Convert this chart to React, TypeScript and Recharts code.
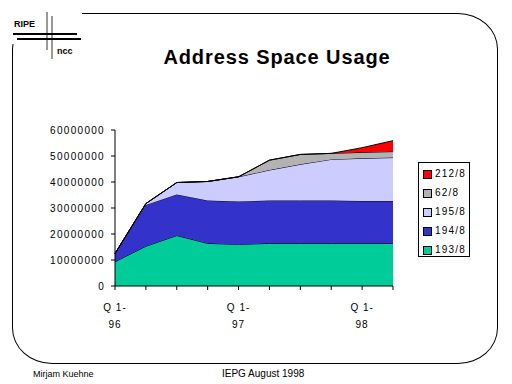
import { Area, AreaChart, XAxis, YAxis } from 'recharts'

const quarters = ['Q1-96', 'Q2-96', 'Q3-96', 'Q4-96', 'Q1-97', 'Q2-97', 'Q3-97', 'Q4-97', 'Q1-98', 'Q2-98']
const net193 = [9300000, 15300000, 19400000, 16400000, 16000000, 16400000, 16400000, 16400000, 16400000, 16400000]
const net194 = [3200000, 15900000, 15800000, 16500000, 16500000, 16500000, 16500000, 16500000, 16300000, 16300000]
const net195 = [0, 500000, 4600000, 7300000, 9500000, 11700000, 13900000, 15800000, 16400000, 16700000]
const net62 = [0, 0, 0, 0, 0, 3800000, 3800000, 2300000, 2300000, 2300000]
const net212 = [0, 0, 0, 0, 0, 0, 0, 0, 1800000, 4200000]
const shownTicks = ['Q1-96', 'Q1-97', 'Q1-98']
const yTicks = [0, 10000000, 20000000, 30000000, 40000000, 50000000, 60000000]

const series = [
  { key: 'n193', name: '193/8', color: '#00CC99' },
  { key: 'n194', name: '194/8', color: '#3333CC' },
  { key: 'n195', name: '195/8', color: '#CCCCFF' },
  { key: 'n62', name: '62/8', color: '#B2B2B2' },
  { key: 'n212', name: '212/8', color: '#FF0000' },
]

const data = quarters.map((q, i) => ({
  q,
  n193: net193[i],
  n194: net194[i],
  n195: net195[i],
  n62: net62[i],
  n212: net212[i],
}))

const font = 'Arial, "Liberation Sans", sans-serif'

function QuarterTick(props: any) {
  const { x, y, payload } = props
  if (!shownTicks.includes(payload.value)) return null
  const [a, b] = payload.value.split('-')
  return (
    <g>
      <text x={x} y={y + 19} textAnchor='middle' fontSize={10} fontFamily={font} letterSpacing={1} fill='#000'>
        {a.replace('Q', 'Q ') + '-'}
      </text>
      <text x={x} y={y + 36} textAnchor='middle' fontSize={10} fontFamily={font} letterSpacing={1} fill='#000'>
        {b}
      </text>
    </g>
  )
}

function App() {
  return (
    <div style={{ position: 'absolute', left: 0, top: 0, width: 512, height: 384, background: '#fff', fontFamily: font, overflow: 'hidden' }}>
      {/* slide frame */}
      <div style={{ position: 'absolute', left: 12, top: 13, width: 484, height: 349, border: '1px solid #000', borderRadius: '40px / 36px' }} />
      {/* logo */}
      <div style={{ position: 'absolute', left: 0, top: 0, width: 82, height: 44, background: '#fff' }} />
      <div style={{ position: 'absolute', left: 46, top: 12, width: 2, height: 38, background: '#999' }} />
      <div style={{ position: 'absolute', left: 51, top: 16, width: 2, height: 43, background: '#999' }} />
      <div style={{ position: 'absolute', left: 13, top: 33, width: 64, height: 2, background: '#000' }} />
      <div style={{ position: 'absolute', left: 17, top: 38, width: 64, height: 2, background: '#000' }} />
      <div style={{ position: 'absolute', left: 14, top: 19, fontSize: 9, fontWeight: 'bold', lineHeight: '10px' }}>RIPE</div>
      <div style={{ position: 'absolute', left: 57, top: 46, fontSize: 9, fontWeight: 'bold', lineHeight: '10px' }}>ncc</div>

      <div style={{ position: 'absolute', left: 0, top: 45, width: 554, textAlign: 'center', fontSize: 20, fontWeight: 'bold', letterSpacing: 0.9, lineHeight: '24px' }}>
        Address Space Usage
      </div>

      <AreaChart width={512} height={384} data={data} margin={{ top: 130, right: 119, bottom: 58, left: 40 }} style={{ position: 'absolute', left: 0, top: 0 }}>
        <XAxis dataKey='q' interval={0} tickSize={4} tick={<QuarterTick />} height={40} stroke='#000' />
        <YAxis
          width={75}
          domain={[0, 60000000]}
          ticks={yTicks}
          interval={0}
          tickSize={4}
          tickMargin={6}
          stroke='#000'
          tick={{ fontSize: 10, fill: '#000', fontFamily: font, letterSpacing: 1.3 }}
        />
        {series.map((s) => (
          <Area
            key={s.key}
            type='linear'
            dataKey={s.key}
            name={s.name}
            stackId='1'
            fill={s.color}
            fillOpacity={1}
            stroke='#000'
            strokeWidth={1}
            isAnimationActive={false}
          />
        ))}
      </AreaChart>

      {/* legend */}
      <div style={{ position: 'absolute', left: 418, top: 162, width: 50, height: 93, border: '1px solid #000', background: '#fff' }}>
        {[...series].reverse().map((s, i) => (
          <div key={s.key} style={{ position: 'absolute', left: 4, top: 6 + i * 19, height: 10, display: 'flex', alignItems: 'center' }}>
            <div style={{ width: 7, height: 7, background: s.color, border: '1px solid #000' }} />
            <span style={{ marginLeft: 3, fontSize: 10, letterSpacing: 1.2, lineHeight: '10px' }}>{s.name}</span>
          </div>
        ))}
      </div>

      <div style={{ position: 'absolute', left: 33, top: 369, fontSize: 9, fontFamily: '"Liberation Sans Narrow", Arial, sans-serif', lineHeight: '11px' }}>Mirjam Kuehne</div>
      <div style={{ position: 'absolute', left: 222, top: 368, fontSize: 10, lineHeight: '11px' }}>IEPG August 1998</div>
    </div>
  )
}

export default App
